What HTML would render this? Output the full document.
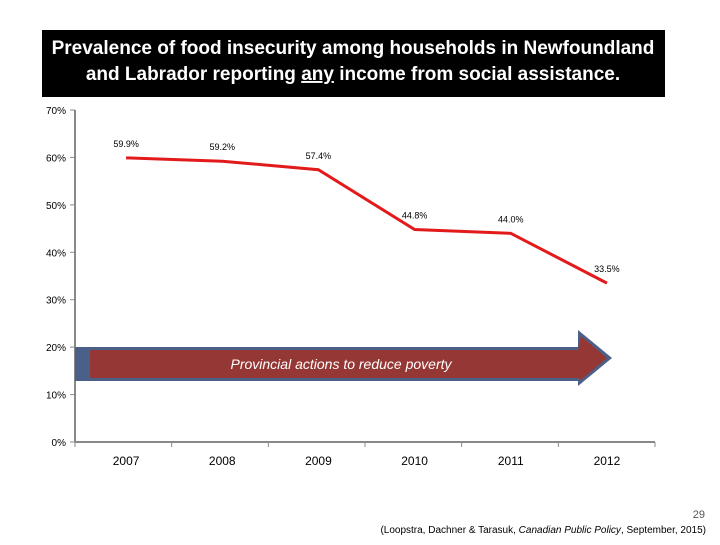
<!DOCTYPE html>
<html><head><meta charset="utf-8"><style>
body{margin:0;background:#fff;width:720px;height:540px;overflow:hidden;font-family:"Liberation Sans",sans-serif}
</style></head><body>
<svg width="720" height="540">
<rect x="42" y="30" width="623" height="67" fill="#000"/>
<text x="353" y="54" fill="#fff" font-size="19" font-weight="bold" text-anchor="middle">Prevalence of food insecurity among households in Newfoundland</text>
<text x="353" y="80" fill="#fff" font-size="19" font-weight="bold" text-anchor="middle">and Labrador reporting <tspan text-decoration="underline">any</tspan> income from social assistance.</text>
<g id="axes"></g>
<g>
<polygon points="75,347 578,347 578,330 612,358 578,386 578,381 75,381" fill="#4a6088"/>
<rect x="90" y="350" width="488" height="28" fill="#953735"/>
<polygon points="578,350 581,336 607,358 581,380 578,378" fill="#953735"/>
<text x="341" y="369" fill="#fff" font-size="14" font-style="italic" text-anchor="middle">Provincial actions to reduce poverty</text>
</g>
<g id="series"></g>
<text x="705" y="518" font-size="11" fill="#555" text-anchor="end">29</text>
<text x="706" y="533" font-size="10" fill="#000" text-anchor="end">(Loopstra, Dachner &amp; Tarasuk, <tspan font-style="italic">Canadian Public Policy</tspan>, September, 2015)</text>
</svg>
<script>
const years=["2007","2008","2009","2010","2011","2012"];
const values=[59.9,59.2,57.4,44.8,44.0,33.5];
const valueLabels=["59.9%","59.2%","57.4%","44.8%","44.0%","33.5%"];
const yTicks=[0,10,20,30,40,50,60,70];
const NS="http://www.w3.org/2000/svg";
const x0=75,x1=655,y0=442,y1=110;
const xs=i=>x0+3+(i+0.5)*(x1-x0-3)/years.length;
const ys=v=>y0-(v/70)*(y0-y1);
function mk(t,a,p){const e=document.createElementNS(NS,t);for(const k in a)e.setAttribute(k,a[k]);p.appendChild(e);return e;}
const ax=document.getElementById('axes'),se=document.getElementById('series');
const yl=mk('line',{x1:x0,y1:y1,x2:x0,y2:y0,stroke:'#888','stroke-width':2},ax);


const xl=mk('line',{x1:x0,y1:y0,x2:x1,y2:y0,stroke:'#888','stroke-width':2},ax);


yTicks.forEach(t=>{const y=ys(t);
mk('line',{x1:x0-5,y1:y,x2:x0,y2:y,stroke:'#888'},ax);
const tx=mk('text',{x:x0-9,y:y+4,'font-size':10,'text-anchor':'end'},ax);tx.textContent=t+'%';

});
for(let i=0;i<=years.length;i++){const x=x0+i*(x1-x0)/years.length;mk('line',{x1:x,y1:y0,x2:x,y2:y0+5,stroke:'#888'},ax);}
years.forEach((yr,i)=>{const tx=mk('text',{x:xs(i),y:465,'font-size':12,'text-anchor':'middle'},ax);tx.textContent=yr;

});
const pl=mk('polyline',{points:values.map((v,i)=>xs(i)+','+ys(v)).join(' '),fill:'none',stroke:'#e31a1c','stroke-width':3},se);


values.forEach((v,i)=>{const tx=mk('text',{x:xs(i),y:ys(v)-11,'font-size':9,'text-anchor':'middle'},se);tx.textContent=valueLabels[i];

});
</script>
</body></html>
